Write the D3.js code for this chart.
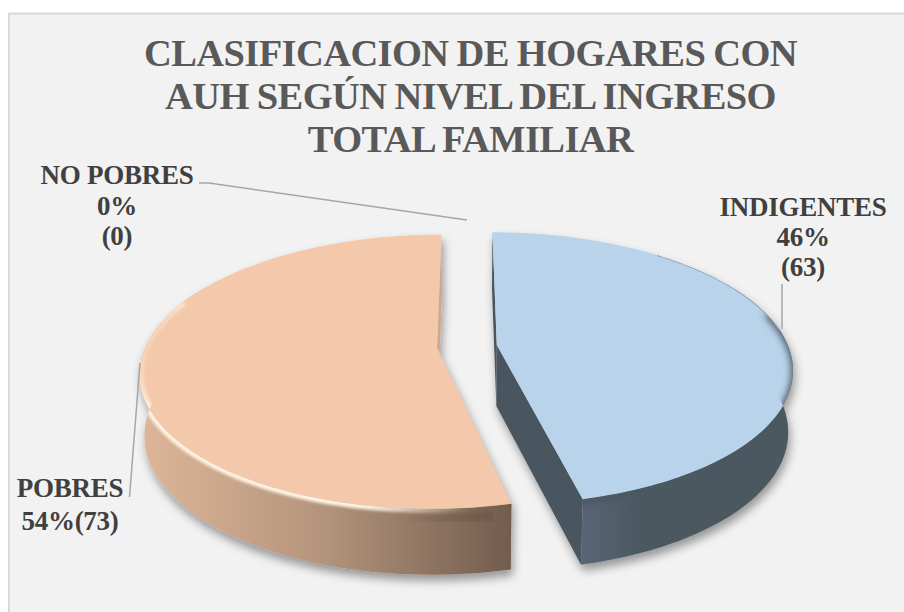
<!DOCTYPE html>
<html>
<head>
<meta charset="utf-8">
<script src="https://cdn.jsdelivr.net/npm/d3@7"></script>
<style>
html,body{margin:0;padding:0;background:#fff;}
svg{display:block;}
text{font-family:"Liberation Serif",serif;font-weight:bold;}
</style>
</head>
<body>
<script>
const categories = ["INDIGENTES", "NO POBRES", "POBRES"];
const values = [63, 0, 73];
const percentLabels = ["46%", "0%", "54%"];
const countLabels = ["(63)", "(0)", "(73)"];
const titleLines = ["CLASIFICACION DE HOGARES CON", "AUH SEGÚN NIVEL DEL INGRESO", "TOTAL FAMILIAR"];

const W = 904, H = 612;
const svg = d3.select("body").append("svg").attr("width", W).attr("height", H);
const defs = svg.append("defs");

// panel
svg.append("rect").attr("x", 9).attr("y", 13.5).attr("width", 900).attr("height", 610)
  .attr("fill", "#f2f2f2").attr("stroke", "#d9d9d9").attr("stroke-width", 2);

// title
svg.append("g").selectAll("text").data(titleLines).join("text")
  .attr("x", 470.5).attr("y", (d, i) => 66 + i * 43)
  .attr("text-anchor", "middle").attr("font-size", 38.5).attr("fill", "#595959")
  .attr("letter-spacing", -0.6).attr("word-spacing", -1)
  .text(d => d);

// projection : unit-circle world -> screen, with perspective
const xS = d3.scaleLinear().domain([-1, 1]).range([467 - 291.6, 467 + 291.6]);
const yS = d3.scaleLinear().domain([-1, 1]).range([346.5 - 132.5, 346.5 + 132.5]);
const persp = 0.172, explode = 0.103, depth = 61, shrinkX = 0.985, shrinkY = 1.03;

function project(theta, r, off, lower) {
  const u = r * Math.sin(theta) + off[0];
  const v = -r * Math.cos(theta) + off[1];
  const d = 1 - persp * v;
  return [xS(u * (lower ? shrinkX : 1) / d), yS(v * (lower ? shrinkY : 1) / d) + (lower ? depth : 0)];
}
const line = d3.line();
function arcPts(a0, a1, r, off, lower) {
  const n = Math.max(2, Math.ceil(Math.abs(a1 - a0) / 0.02));
  return d3.range(n + 1).map(i => project(a0 + (a1 - a0) * i / n, r, off, lower));
}

function hGrad(id, x1, x2, stops, y1, y2) {
  const g = defs.append("linearGradient").attr("id", id).attr("gradientUnits", "userSpaceOnUse")
    .attr("x1", x1).attr("x2", x2).attr("y1", y1 || 0).attr("y2", y2 || 0);
  stops.forEach(s => g.append("stop").attr("offset", s[0]).attr("stop-color", s[1]).attr("stop-opacity", s[2] === undefined ? 1 : s[2]));
}
hGrad("wallO", 146, 508, [[0, "#dcb598"], [0.5, "#b2937b"], [1, "#735d4e"]]);
hGrad("wallB", 578, 640, [[0, "#586776"], [1, "#4c5861"]]);
hGrad("rimO", 145, 510, [[0, "#fff3e0", 0], [0.1, "#fff3e0", 1], [0.68, "#fff6e6", 1], [0.92, "#fff6e6", 0]], 330, 500);
hGrad("darkO", 400, 510, [[0, "#6b5443", 0], [1, "#6b5443", 1]]);

function blur(id, sd) {
  defs.append("filter").attr("id", id).attr("x", "-10%").attr("y", "-10%").attr("width", "120%").attr("height", "120%")
    .append("feGaussianBlur").attr("stdDeviation", sd);
}
const fShadow = defs.append("filter").attr("id", "shadow").attr("x", "-20%").attr("y", "-20%").attr("width", "140%").attr("height", "140%");
fShadow.append("feDropShadow").attr("dx", 2).attr("dy", 6).attr("stdDeviation", 5).attr("flood-color", "#000").attr("flood-opacity", 0.38);
blur("blur0", 0.7);
blur("blur1", 1.6);
blur("blur2", 3.5);

const sliceStyle = {
  INDIGENTES: { top: "#b9d3ea", wall: "url(#wallB)", inner: "#4a5760" },
  POBRES: { top: "#f4c9ab", wall: "url(#wallO)", inner: "#d0a68c" }
};

const pie = d3.pie().sort(null).value(d => d.value);
const arcs = pie(categories.map((c, i) => ({ name: c, value: values[i] })));

const pieG = svg.append("g");
arcs.filter(a => a.endAngle > a.startAngle).sort((a, b) => b.data.value - a.data.value).forEach(a => {
  const st = sliceStyle[a.data.name];
  const mid = (a.startAngle + a.endAngle) / 2;
  const off = [explode * Math.sin(mid), -explode * Math.cos(mid)];
  const g = pieG.append("g");
  const solid = g.append("g").attr("filter", "url(#shadow)");

  const apexT = project(0, 0, off, false), apexB = project(0, 0, off, true);
  // radial walls
  [a.startAngle, a.endAngle].forEach(t => {
    solid.append("path").attr("fill", st.inner)
      .attr("d", line([apexT, project(t, 1, off, false), project(t, 1, off, true), apexB]) + "Z");
  });
  // outer wall
  const vis0 = a.data.name === "INDIGENTES" ? Math.PI * 0.35 : a.startAngle;
  const vis1 = a.data.name === "INDIGENTES" ? a.endAngle : Math.PI * 1.65;
  solid.append("path").attr("fill", st.wall)
    .attr("d", line(arcPts(vis0, vis1, 1, off, false).concat(arcPts(vis1, vis0, 1, off, true))) + "Z");
  // top face
  const topPts = [apexT].concat(arcPts(a.startAngle, a.endAngle, 1, off, false));
  solid.append("path").attr("fill", st.top).attr("d", line(topPts) + "Z");

  // bevel, clipped to the silhouette of the slice
  const clipId = "clip" + a.index;
  defs.append("clipPath").attr("id", clipId).append("path")
    .attr("d", line(topPts.concat(arcPts(a.endAngle, a.startAngle, 1, off, true))) + "Z");
  const bev = g.append("g").attr("clip-path", `url(#${clipId})`);
  if (a.data.name === "POBRES") {
    bev.append("path").attr("fill", "none").attr("stroke", "url(#darkO)").attr("stroke-width", 9)
      .attr("filter", "url(#blur2)")
      .attr("d", line(arcPts(a.startAngle - 0.2, a.startAngle + 0.75, 1.05, off, false)));
    bev.append("path").attr("fill", "none").attr("stroke", "url(#rimO)").attr("stroke-width", 8)
      .attr("filter", "url(#blur1)")
      .attr("d", line(arcPts(a.startAngle, Math.PI * 1.62, 1.0, off, false)));
  } else {
    bev.append("path").attr("fill", "none").attr("stroke", "#4c5861").attr("stroke-width", 9)
      .attr("filter", "url(#blur2)")
      .attr("d", line(arcPts(Math.PI * 0.42, a.endAngle + 0.1, 1.008, off, false)));
    bev.append("path").attr("fill", "none").attr("stroke", "#8aa3b8").attr("stroke-width", 1.6)
      .attr("filter", "url(#blur0)")
      .attr("d", line(arcPts(Math.PI * 0.22, Math.PI * 0.46, 1.0, off, false)));
  }
});

// leader lines
const leaderLayout = {
  "NO POBRES": [[199, 183], [209, 183], [467, 220]],
  "INDIGENTES": [[782, 284], [782, 329]],
  "POBRES": [[140, 363], [129.5, 497]]
};
svg.append("g").selectAll("path").data(categories).join("path")
  .attr("fill", "none").attr("stroke", "#a6a6a6").attr("stroke-width", 1.5)
  .attr("d", c => line(leaderLayout[c]));

// labels
const labelLayout = {
  "INDIGENTES": { x: 803, y: 216, step: 30, joined: false },
  "NO POBRES": { x: 117, y: 184, step: 30.5, joined: false },
  "POBRES": { x: 70, y: 497, step: 33, joined: true }
};
const labelG = svg.append("g").attr("font-size", 27).attr("fill", "#404040").attr("text-anchor", "middle").attr("letter-spacing", -0.25);
categories.forEach((c, i) => {
  const l = labelLayout[c];
  const lines = l.joined ? [c, percentLabels[i] + countLabels[i]] : [c, percentLabels[i], countLabels[i]];
  lines.forEach((t, j) => labelG.append("text").attr("x", l.x).attr("y", l.y + j * l.step).text(t));
});
</script>
</body>
</html>
